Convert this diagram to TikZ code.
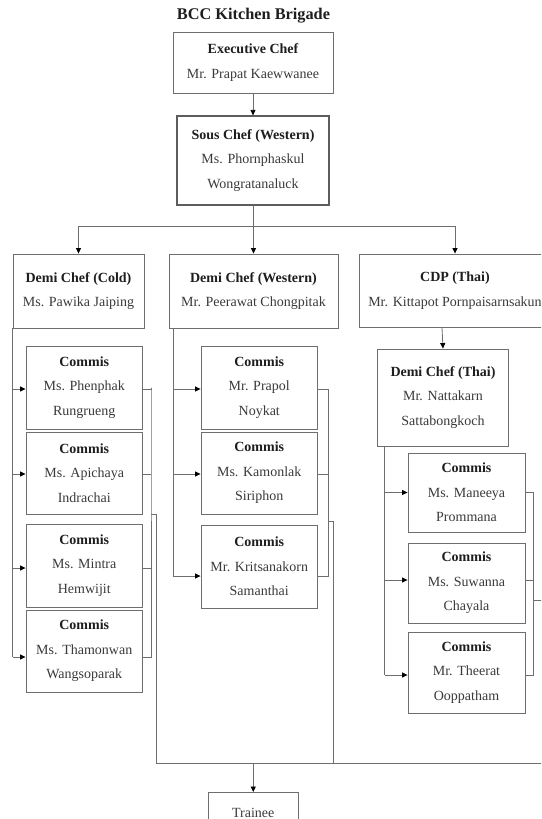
\documentclass[tikz,border=0pt]{standalone}
\usepackage{fontspec}
\setmainfont{Liberation Serif}
\usetikzlibrary{arrows.meta,calc}
\definecolor{linec}{HTML}{6E6E6E}
\definecolor{txtc}{HTML}{3A3A3A}
\definecolor{headc}{HTML}{1E1E1E}
\newcommand{\hd}[1]{\textbf{\color{headc}#1}}
\tikzset{
  box/.style={draw=linec, line width=0.9pt, inner sep=0pt, align=center, text=txtc,
    font=\fontsize{14}{24.5}\selectfont},
  conn/.style={draw=linec, line width=0.8pt},
  arr/.style={conn, -{Triangle[length=5.5pt,width=5pt,fill=black,color=black]}}
}
\begin{document}
\begin{tikzpicture}[x=1pt,y=-1pt]
\useasboundingbox (0,0) rectangle (541,819);
\clip (0,0) rectangle (541,819);
\fill[white] (0,0) rectangle (541,819);
\node[font=\fontsize{16.3}{20}\selectfont\bfseries, text=headc] (title) at (253.5,15.5) {BCC Kitchen Brigade};
\node[box, minimum width=160pt, minimum height=61pt] (exec) at (253,62.5) {\hd{Executive Chef}\\Mr. Prapat Kaewwanee};
\node[box, line width=1.2pt, draw=linec!85!black, minimum width=152pt, minimum height=89pt] (sous) at (253,160.5) {\hd{Sous Chef (Western)}\\Ms. Phornphaskul\\Wongratanaluck};
\node[box, minimum width=131pt, minimum height=74pt] (demiC) at (78.5,291) {\hd{Demi Chef (Cold)}\\Ms. Pawika Jaiping};
\node[box, minimum width=169pt, minimum height=74pt] (demiW) at (253.5,291) {\hd{Demi Chef (Western)}\\Mr. Peerawat Chongpitak};
\node[box, minimum width=192pt, minimum height=73pt] (cdp) at (455,290.5) {\hd{CDP (Thai)}\\Mr. Kittapot Pornpaisarnsakun};
\node[box, minimum width=131.6pt, minimum height=97pt] (demiT) at (443,397.5) {\hd{Demi Chef (Thai)}\\Mr. Nattakarn\\Sattabongkoch};
% Cold commis
\node[box, minimum width=116.5pt, minimum height=83pt] (c1) at (84.25,387.5) {\hd{Commis}\\Ms. Phenphak\\Rungrueng};
\node[box, minimum width=116.5pt, minimum height=82pt] (c2) at (84.25,473) {\hd{Commis}\\Ms. Apichaya\\Indrachai};
\node[box, minimum width=116.5pt, minimum height=83pt] (c3) at (84.25,565.5) {\hd{Commis}\\Ms. Mintra\\Hemwijit};
\node[box, minimum width=116.5pt, minimum height=82pt] (c4) at (84.25,651) {\hd{Commis}\\Ms. Thamonwan\\Wangsoparak};
% Western commis
\node[box, minimum width=116.5pt, minimum height=83pt] (w1) at (259.25,387.5) {\hd{Commis}\\Mr. Prapol\\Noykat};
\node[box, minimum width=116.5pt, minimum height=82pt] (w2) at (259.25,473) {\hd{Commis}\\Ms. Kamonlak\\Siriphon};
\node[box, minimum width=116.5pt, minimum height=83pt] (w3) at (259.25,566.5) {\hd{Commis}\\Mr. Kritsanakorn\\Samanthai};
% Thai commis
\node[box, minimum width=117pt, minimum height=79pt] (t1) at (466.5,492.5) {\hd{Commis}\\Ms. Maneeya\\Prommana};
\node[box, minimum width=117pt, minimum height=80pt] (t2) at (466.5,583) {\hd{Commis}\\Ms. Suwanna\\Chayala};
\node[box, minimum width=117pt, minimum height=81pt] (t3) at (466.5,672.5) {\hd{Commis}\\Mr. Theerat\\Ooppatham};
% Trainee
\node[box, minimum width=90.5pt, minimum height=40pt] (trainee) at (253.25,812.5) {Trainee};

% coordinates
\coordinate (hbar) at (0,226);
\coordinate (cdrop) at (151,514);
\coordinate (wdrop) at (328,521);
\coordinate (tdrop) at (533,600);
\coordinate (bot) at (0,763);
\coordinate (offR) at (548,763);

% top connectors
\draw[arr] (exec.south) -- (sous.north);
\draw[conn] (sous.south) -- (sous.south |- hbar);
\draw[conn] (demiC.north |- hbar) -- (cdp.north |- hbar);
\draw[arr] (demiC.north |- hbar) -- (demiC.north);
\draw[arr] (demiW.north |- hbar) -- (demiW.north);
\draw[arr] (cdp.north |- hbar) -- (cdp.north);
\draw[arr] ([xshift=-13pt]cdp.south) -- ([xshift=-12pt]cdp.south |- demiT.north);

% cold
\draw[conn] (demiC.south west) -- ([yshift=-6pt]demiC.south west |- c4.west);
\draw[arr] ([yshift=-1.5pt]demiC.south west |- c1.west) -- ([yshift=-1.5pt]c1.west);
\draw[arr] ([yshift=-1pt]demiC.south west |- c2.west) -- ([yshift=-1pt]c2.west);
\draw[arr] ([yshift=-2.5pt]demiC.south west |- c3.west) -- ([yshift=-2.5pt]c3.west);
\draw[arr] ([yshift=-6pt]demiC.south west |- c4.west) -- ([yshift=-6pt]c4.west);
\draw[conn] ([yshift=-1.5pt]c1.east) -| (cdrop |- c1.east) -- ([yshift=-6pt]cdrop |- c4.east) -- ([yshift=-6pt]c4.east);
\draw[conn] ([yshift=-1pt]c2.east) -- ([yshift=-1pt]cdrop |- c2.east);
\draw[conn] ([yshift=-2.5pt]c3.east) -- ([yshift=-2.5pt]cdrop |- c3.east);
\draw[conn] (cdrop) -- ++(5,0) -- ([xshift=5pt]cdrop |- bot) -- (offR);

% western
\draw[conn] ([xshift=4.6pt]demiW.south west) -- ([xshift=4.6pt,yshift=-9.5pt]demiW.south west |- w3.west);
\draw[arr] ([xshift=4.6pt,yshift=-1.5pt]demiW.south west |- w1.west) -- ([yshift=-1.5pt]w1.west);
\draw[arr] ([xshift=4.6pt,yshift=-1pt]demiW.south west |- w2.west) -- ([yshift=-1pt]w2.west);
\draw[arr] ([xshift=4.6pt,yshift=-9.5pt]demiW.south west |- w3.west) -- ([yshift=-9.5pt]w3.west);
\draw[conn] ([yshift=-1.5pt]w1.east) -- ([yshift=-1.5pt]wdrop |- w1.east) -- ([yshift=-9.5pt]wdrop |- w3.east) -- ([yshift=-9.5pt]w3.east);
\draw[conn] ([yshift=-1pt]w2.east) -- ([yshift=-1pt]wdrop |- w2.east);
\draw[conn] (wdrop) -- ++(5,0) -- ([xshift=5pt]wdrop |- bot);

% thai
\draw[conn] ([xshift=8pt]demiT.south west) -- ([xshift=8pt,yshift=-2.5pt]demiT.south west |- t3.west);
\draw[arr] ([xshift=8pt]demiT.south west |- t1.west) -- (t1.west);
\draw[arr] ([xshift=8pt,yshift=3pt]demiT.south west |- t2.west) -- ([yshift=3pt]t2.west);
\draw[arr] ([xshift=8pt,yshift=-2.5pt]demiT.south west |- t3.west) -- ([yshift=-2.5pt]t3.west);
\draw[conn] (t1.east) -- (tdrop |- t1.east) -- ([yshift=-2.5pt]tdrop |- t3.east) -- ([yshift=-2.5pt]t3.east);
\draw[conn] ([yshift=3pt]t2.east) -- ([yshift=3pt]tdrop |- t2.east);
\draw[conn] (tdrop) -- ++(15,0) -- ([xshift=15pt]tdrop |- bot);

% trainee
\draw[arr] (trainee.north |- bot) -- (trainee.north);
\end{tikzpicture}
\end{document}
